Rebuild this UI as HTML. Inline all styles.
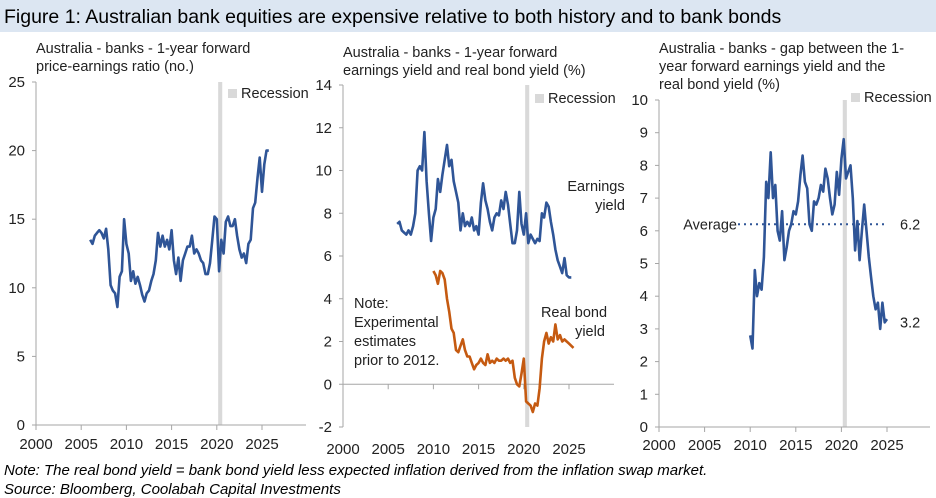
<!DOCTYPE html>
<html><head><meta charset="utf-8"><style>
body{margin:0;width:936px;height:497px;background:#fff;overflow:hidden;font-family:"Liberation Sans",sans-serif}
#hdr{position:absolute;left:0;top:0;width:936px;height:32px;background:#DCE6F2;font-size:19.5px;line-height:34px;padding-left:4px;box-sizing:border-box;color:#000}
.fn{position:absolute;left:4px;font-size:15px;font-style:italic;color:#000}
svg{position:absolute;left:0;top:0}
</style></head><body>
<div id="hdr">Figure 1: Australian bank equities are expensive relative to both history and to bank bonds</div>
<div class="fn" style="top:462px">Note: The real bond yield = bank bond yield less expected inflation derived from the inflation swap market.</div>
<div class="fn" style="top:481px">Source: Bloomberg, Coolabah Capital Investments</div>
<svg id="s" width="936" height="497"></svg>
<script>
const xTicks=[2000,2005,2010,2015,2020,2025];
const peStart=2006;
const peValues=[13.5,13.2,13.8,14.0,14.2,14.0,13.6,14.3,12.8,10.2,9.8,9.6,8.6,10.8,11.2,15.0,13.2,12.5,10.5,11.2,10.3,10.8,10.2,9.5,9.0,9.6,9.8,10.5,11.0,12.0,14.0,13.0,13.8,13.0,13.5,12.8,14.2,12.0,11.0,12.2,10.5,12.0,12.5,13.0,13.0,13.8,12.5,12.8,12.5,12.0,11.8,11.0,11.0,11.8,13.5,15.2,15.0,11.2,13.5,12.5,14.8,15.2,14.5,14.5,15.0,13.8,12.8,12.2,12.5,11.8,13.2,13.5,15.8,16.2,18.0,19.5,17.0,19.0,20.0,20.0];
const eyStart=2006;
const eyValues=[7.5,7.6,7.2,7.1,7.0,7.2,7.0,7.4,8.0,10.0,10.2,10.0,11.8,9.5,8.0,6.7,7.8,8.2,9.6,9.0,9.8,10.5,11.2,10.2,10.5,9.5,9.0,8.5,7.2,8.0,7.4,7.6,7.4,7.8,7.2,7.4,7.0,8.5,9.4,8.6,8.2,7.6,7.2,7.8,8.0,7.9,8.6,8.2,9.0,8.4,7.5,6.6,6.6,7.2,9.0,7.5,7.0,8.0,6.6,7.0,6.8,6.6,6.8,6.7,8.0,7.8,8.5,8.3,7.6,7.0,6.3,5.8,5.5,5.2,5.9,5.1,5.0,5.0];
const rbStart=2010;
const rbValues=[5.3,5.1,4.7,5.3,5.2,4.9,4.0,3.4,2.6,2.4,1.6,1.5,1.8,2.1,1.6,1.3,1.3,1.0,0.7,0.9,1.0,1.2,1.0,0.9,1.4,1.0,1.1,1.0,1.2,1.1,1.1,1.2,1.1,1.2,1.0,1.1,0.3,0.0,-0.1,0.5,1.2,-0.8,-0.9,-1.0,-1.3,-0.9,-1.0,-0.2,1.2,2.0,2.4,1.9,2.2,2.0,2.8,2.1,2.3,2.0,2.1,2.0,1.9,1.8,1.7];
const gapStart=2010;
const gapValues=[2.8,2.4,4.8,4.0,4.4,4.2,5.2,7.5,7.0,8.4,7.0,7.4,6.0,5.7,6.6,5.1,5.5,6.0,6.2,6.6,6.5,6.9,7.7,8.3,7.5,7.3,6.2,6.0,6.9,6.8,7.0,7.4,7.2,7.9,7.6,7.0,6.5,6.8,7.8,7.1,8.2,8.8,7.6,7.8,8.0,7.0,5.4,6.3,5.1,6.0,6.8,6.0,5.2,4.6,4.0,3.6,3.8,3.0,3.8,3.2,3.3];
const gapAverage=6.2, gapLast=3.2;
const step=0.25;
const NS='http://www.w3.org/2000/svg';
const svg=document.getElementById('s');
function el(t,a,txt){const e=document.createElementNS(NS,t);for(const k in a)e.setAttribute(k,a[k]);if(txt!==undefined)e.textContent=txt;svg.appendChild(e);return e;}
function panel(p){
 const X=v=>p.x0+(v-2000)*(p.x1-p.x0)/25;
 const Y=v=>p.yb+(v-p.ymin)*(p.yt-p.yb)/(p.ymax-p.ymin);
 p.X=X;p.Y=Y;
 let r=el('rect',{x:X(2020.15),y:p.yt,width:X(2020.6)-X(2020.15),height:p.yb-p.yt,fill:'#D9D9D9'});
 
 let a=el('line',{x1:p.x0,y1:p.yt,x2:p.x0,y2:p.yb,stroke:'#A6A6A6'});
 
 let xa=el('line',{x1:p.x0,y1:Y(p.xaxisAt),x2:p.xend,y2:Y(p.xaxisAt),stroke:'#A6A6A6'});
 
 for(const t of p.yticks){el('line',{x1:p.x0-4,y1:Y(t),x2:p.x0,y2:Y(t),stroke:'#A6A6A6'});
  let tl=el('text',{x:p.x0-11,y:Y(t)+5,'text-anchor':'end','font-size':15,fill:'#222'},t);
  }
 for(const t of xTicks){el('line',{x1:X(t),y1:Y(p.xaxisAt),x2:X(t),y2:Y(p.xaxisAt)+5,stroke:'#A6A6A6'});
  let tl=el('text',{x:X(t),y:p.xlabY,'text-anchor':'middle','font-size':15,fill:'#222'},t);
  }
 p.title.forEach((s,i)=>{let t=el('text',{x:p.tx,y:p.ty+i*18,'font-size':14.5,fill:'#222'},s);
  });
 let lg=el('rect',{x:p.lx,y:p.ly-9,width:9,height:9,fill:'#D9D9D9'});
 
 let lt=el('text',{x:p.lx+13,y:p.ly,'font-size':14.5,fill:'#222'},'Recession');
 
}
function series(p,start,vals,color,name){
 const d=vals.map((v,i)=>(i?'L':'M')+p.X(start+i*step).toFixed(1)+','+p.Y(v).toFixed(1)).join('');
 let e=el('path',{d:d,fill:'none',stroke:color,'stroke-width':2.6,'stroke-linejoin':'round'});
 
}
const p1={id:'pe',x0:36,x1:262,xend:306,yt:82,yb:425,ymin:0,ymax:25,yticks:[0,5,10,15,20,25],xaxisAt:0,xlabY:449,
 title:['Australia - banks - 1-year forward','price-earnings ratio (no.)'],tx:36,ty:53,lx:228,ly:98};
const p2={id:'yield',x0:343,x1:569,xend:614,yt:85,yb:427,ymin:-2,ymax:14,yticks:[-2,0,2,4,6,8,10,12,14],xaxisAt:0,xlabY:454,
 title:['Australia - banks - 1-year forward','earnings yield and real bond yield (%)'],tx:343,ty:57,lx:535,ly:103};
const p3={id:'gap',x0:659,x1:887,xend:930,yt:100,yb:427,ymin:0,ymax:10,yticks:[0,1,2,3,4,5,6,7,8,9,10],xaxisAt:0,xlabY:450,
 title:['Australia - banks - gap between the 1-','year forward earnings yield and the','real bond yield (%)'],tx:659,ty:53,lx:851,ly:102};
panel(p1);panel(p2);panel(p3);
series(p1,peStart,peValues,'#2F5597','pe-line');
series(p2,eyStart,eyValues,'#2F5597','earnings-yield-line');
series(p2,rbStart,rbValues,'#C55A11','real-bond-yield-line');
let av=el('line',{x1:738,y1:p3.Y(gapAverage),x2:888,y2:p3.Y(gapAverage),stroke:'#2F5597','stroke-width':2,'stroke-dasharray':'2,4'});

series(p3,gapStart,gapValues,'#2F5597','gap-line');
function lab(x,y,s,n,anchor){let t=el('text',{x:x,y:y,'font-size':14.5,fill:'#222','text-anchor':anchor||'start'},s);
 }
lab(737,p3.Y(gapAverage)+5,'Average','average-label','end');
lab(900,p3.Y(gapAverage)+5,gapAverage.toFixed(1),'average-value-label');
lab(900,p3.Y(gapLast)+5,gapLast.toFixed(1),'last-value-label');
lab(596,191,'Earnings','earnings-yield-label','middle');lab(610,210,'yield','earnings-yield-label-2','middle');
lab(574,317,'Real bond','real-bond-label','middle');lab(590,336,'yield','real-bond-label-2','middle');
lab(354,308,'Note:','note-label');lab(354,327,'Experimental','note-label-2');lab(354,346,'estimates','note-label-3');lab(354,365,'prior to 2012.','note-label-4');
</script>
</body></html>
